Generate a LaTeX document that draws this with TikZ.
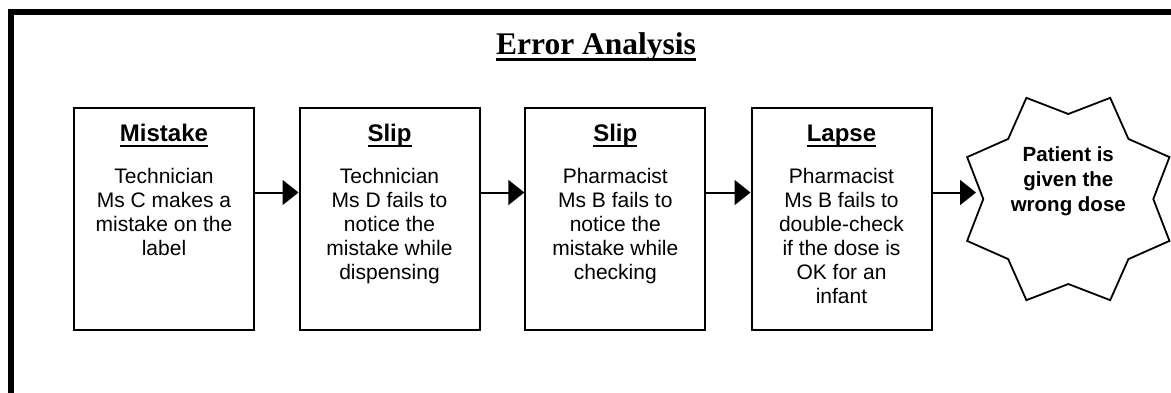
\documentclass[tikz,border=0pt]{standalone}
\usepackage{fontspec}
\setmainfont{Liberation Sans}
\newfontfamily\titlefont{Liberation Serif}
\usetikzlibrary{arrows.meta,calc}
\newcommand\ulx[3]{\sbox0{#3}\rlap{\usebox0}\rule[-#1]{\wd0}{#2}}
\tikzset{
  stepbox/.style={draw, line width=2pt, minimum width=180pt, minimum height=222pt, inner sep=0pt},
  headtxt/.style={anchor=base, inner sep=0pt, font=\fontsize{24}{28}\selectfont\bfseries},
  bodytxt/.style={anchor=base, inner sep=0pt, align=center, font=\fontsize{21}{24}\selectfont},
  arr/.style={line width=2pt, -{Triangle[length=16pt,width=25pt]}},
}
\begin{document}
\begin{tikzpicture}[x=1pt,y=-1pt]
\useasboundingbox (0,0) rectangle (1171,392);
\draw[line width=6pt] (11,11.5) rectangle (1190,410);
\node[anchor=base, inner sep=0pt, font=\titlefont\fontsize{31.5}{36}\selectfont\bfseries] (title) at (596,54.5) {\ulx{6.8pt}{3pt}{Error Analysis}};
\coordinate (ay) at (0,192.5);
% body text anchored at the baseline of its last line (first line at y=183.3, 24pt apart)
\foreach \i/\x/\h/\n/\t in {1/164/Mistake/4/{Technician\\Ms C makes a\\mistake on the\\label},
  2/389.5/Slip/5/{Technician\\Ms D fails to\\notice the\\mistake while\\dispensing},
  3/615.3/Slip/5/{Pharmacist\\Ms B fails to\\notice the\\mistake while\\checking},
  4/841.5/Lapse/6/{Pharmacist\\Ms B fails to\\double-check\\if the dose is\\OK for an\\infant}} {
  \node[stepbox] (b\i) at (\x,219) {};
  \node[headtxt] (h\i) at (\x,141.7) {\ulx{5pt}{2.2pt}{\h}};
  \node[bodytxt] (t\i) at (\x,{183.3+24*(\n-1)}) {\t};
}
\coordinate (sc) at (1068.3,199);
\draw[line width=1.8pt, line join=miter] ($(sc)+(22.5:109.5)$)
  \foreach \k in {1,...,15} { -- ($(sc)+({22.5*\k+22.5}:{ifthenelse(mod(\k,2)==0,109.5,85)})$) } -- cycle;
\node[anchor=base, inner sep=0pt, align=center, font=\fontsize{20.5}{25}\selectfont\bfseries] (star) at (1068.3,211.5) {Patient is\\given the\\wrong dose};
\coordinate (se) at (976,192.5);
\draw[arr] (b1.east |- ay) -- (b2.west |- ay);
\draw[arr] (b2.east |- ay) -- (b3.west |- ay);
\draw[arr] (b3.east |- ay) -- (b4.west |- ay);
\draw[arr] (b4.east |- ay) -- (se);
\end{tikzpicture}
\end{document}
